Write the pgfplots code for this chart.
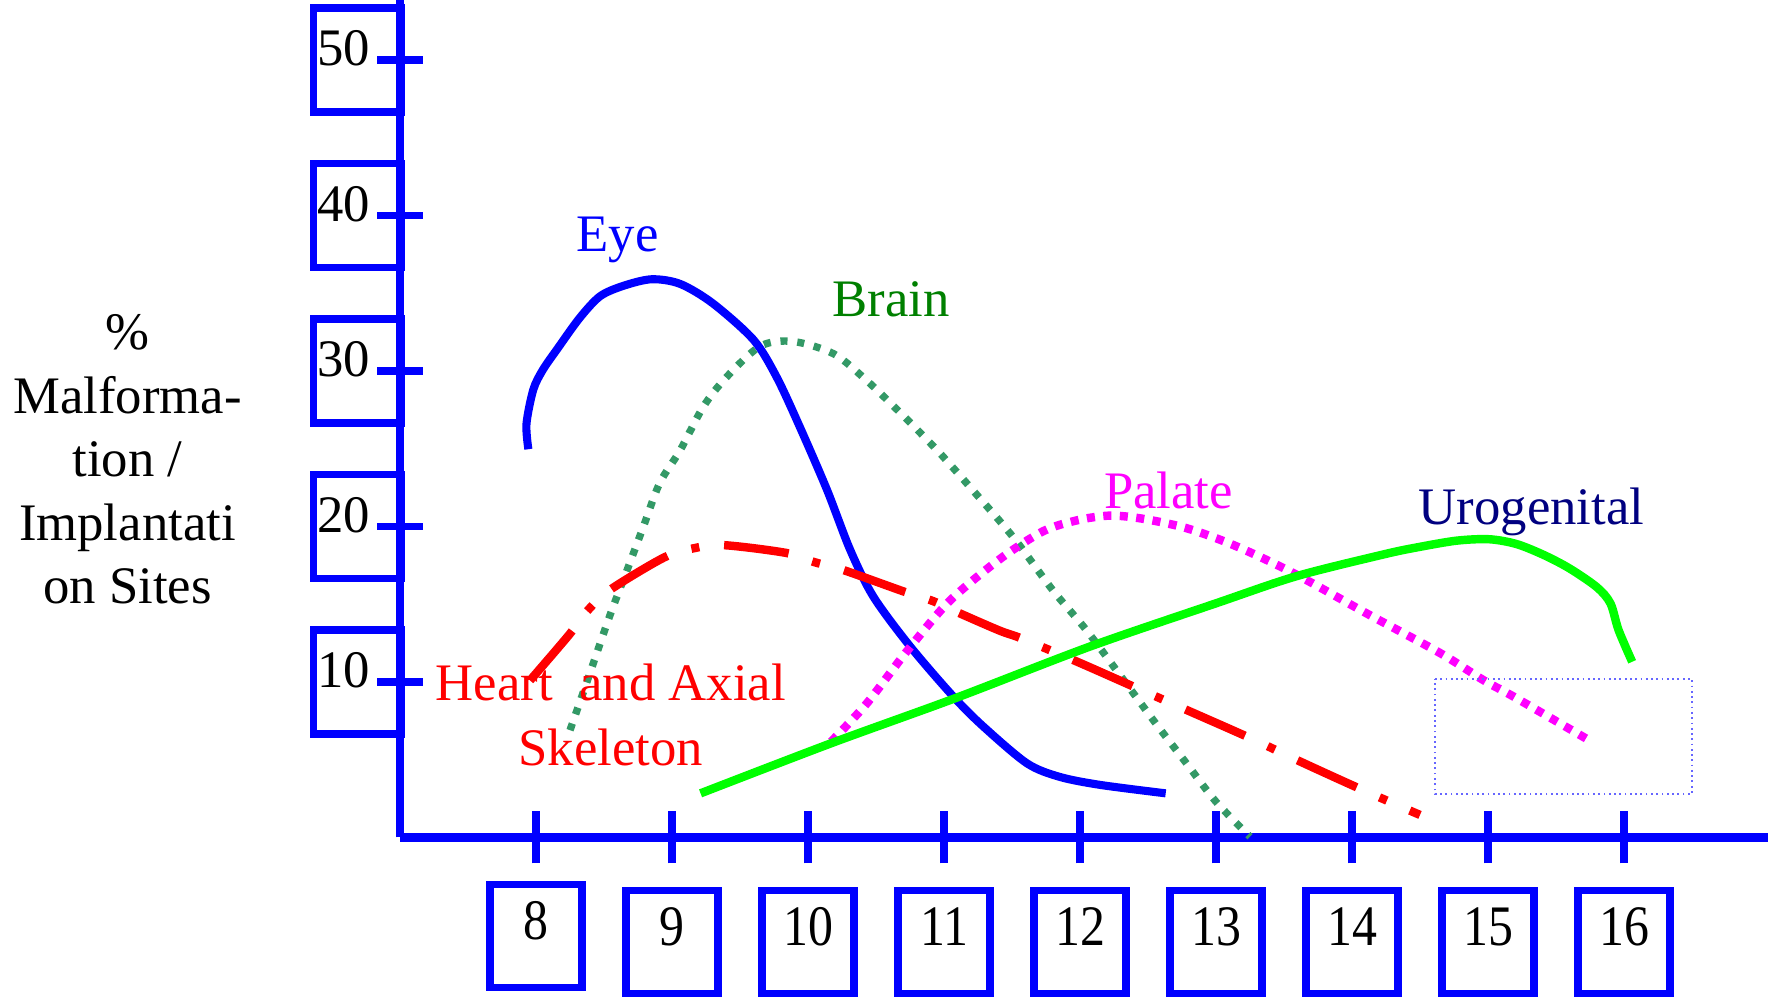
\documentclass[border=0pt]{standalone}
\usepackage{pgfplots}
\pgfplotsset{compat=1.18}
\usepackage{fontspec}
\setmainfont{Liberation Serif}
\newfontfamily\condfont[FakeStretch=0.87]{Liberation Serif}
\definecolor{eyeblue}{RGB}{0,0,255}
\definecolor{brainline}{RGB}{51,153,102}
\definecolor{brainlab}{RGB}{0,128,0}
\definecolor{palate}{RGB}{255,0,255}
\definecolor{uro}{RGB}{0,255,0}
\definecolor{urolab}{RGB}{0,0,128}
\newcommand{\lbl}{\fontsize{15}{18.07}\selectfont}
\newcommand{\xlbl}{\condfont\fontsize{16.3}{19}\selectfont}
\begin{document}
\begin{tikzpicture}
\path[use as bounding box] (0,0) rectangle (17.68,9.97);
\begin{axis}[
  at={(4cm,1.595cm)}, anchor=south west,
  scale only axis, width=13.68cm, height=8.375cm,
  xmin=7, xmax=17.059, ymin=0, ymax=53.86,
  axis lines*=left,
  axis line style={blue, line width=2.3pt},
  clip=false,
  tick align=center,
  xtick={9,...,16}, extra x ticks={8},
  ytick={10,20,30,40,50},
  xtick style={blue, line width=2pt, /pgfplots/major tick length=0.52cm},
  ytick style={blue, line width=2pt, /pgfplots/major tick length=0.46cm},
  /pgf/number format/assume math mode=true,
  yticklabel style={draw=blue, line width=2.1pt, anchor=east, text width=0.80cm, align=left,
    inner xsep=0.04cm, inner ysep=0pt, text height=0.58cm, text depth=0.46cm, font=\lbl, text=black,
    xshift=0.125cm},
  xticklabel style={draw=blue, line width=2.1pt, anchor=north, text width=0.92cm, align=center,
    inner sep=0pt, text height=0.55cm, text depth=0.48cm, font=\xlbl, text=black, yshift=-0.42cm},
  extra x tick style={xticklabel style={yshift=0.06cm}},
]
% Eye
\addplot[eyeblue, line width=2.3pt, smooth] coordinates {
(7.944,24.97) (7.93,26.6) (7.98,28.8) (8.05,30.07) (8.16,31.46) (8.32,33.4) (8.47,34.8) (8.64,35.47)
(8.85,35.9) (9.06,35.6) (9.30,34.35) (9.60,32.0) (9.77,29.6) (9.94,26.4) (10.14,22.35) (10.31,18.5)
(10.48,15.5) (10.75,12.3) (11.07,9.05) (11.29,7.13) (11.61,4.77) (11.85,3.9) (12.15,3.38) (12.63,2.84)};
% Brain
\addplot[brainline, line width=2.1pt, dash pattern=on 2pt off 2.8pt, smooth] coordinates {
(8.25,6.9) (8.37,9.9) (8.54,14.2) (8.67,17.2) (8.79,20.0) (8.91,22.8) (9.06,24.9) (9.23,27.7)
(9.40,29.6) (9.65,31.6) (9.89,31.9) (10.19,31.1) (10.43,29.4) (10.68,27.3) (10.95,24.9) (11.21,22.35)
(11.51,19.3) (11.80,15.9) (12.05,13.3) (12.34,9.9) (12.56,7.3) (12.78,4.8) (13.0,2.3) (13.25,0.05)};
% Heart and axial skeleton
\addplot[red, line width=2.4pt, dash pattern=on 18.5pt off 7.1pt on 2.3pt off 7.1pt, smooth] coordinates {
(7.956,10.1) (8.24,13.0) (8.37,14.5) (8.54,15.9) (8.94,18.0) (9.16,18.6) (9.38,18.8) (9.84,18.3)
(10.05,17.7) (10.26,17.2) (10.71,15.8) (10.92,15.2) (11.12,14.4) (11.41,13.3) (11.57,12.8) (11.98,11.3)
(12.42,9.6) (12.81,8.1) (13.25,6.4) (13.64,4.8) (14.08,3.05) (14.5,1.45)};
% Palate
\addplot[palate, line width=2.4pt, dash pattern=on 2.3pt off 2.4pt, smooth] coordinates {
(10.17,6.16) (10.43,8.6) (10.72,11.9) (11.04,15.2) (11.41,17.9) (11.73,19.7) (11.98,20.4) (12.22,20.7)
(12.46,20.5) (12.78,19.9) (13.13,18.8) (13.57,17.0) (14.11,14.4) (14.65,11.85) (14.97,10.1) (15.19,9.05)
(15.74,6.27)};
% Urogenital
\addplot[uro, line width=2.4pt, smooth] coordinates {
(9.21,2.84) (10.17,6.06) (11.08,8.95) (12.07,12.27) (13.0,15.06) (13.59,16.8) (14.23,18.2) (14.48,18.66)
(14.77,19.09) (15.01,19.18) (15.21,18.87) (15.41,18.17) (15.60,17.3) (15.80,16.1) (15.90,15.06)
(15.96,13.34) (16.06,11.3)};
% dotted frame
\addplot[blue!60, line width=0.5pt, densely dotted] coordinates {
(14.61,10.19) (16.50,10.19) (16.50,2.80) (14.61,2.80) (14.61,10.19)};
% labels
\node[anchor=base, eyeblue, font=\lbl] at (axis cs:8.60,37.7) {Eye};
\node[anchor=base, brainlab, font=\lbl] at (axis cs:10.61,33.49) {Brain};
\node[anchor=base, palate, font=\lbl] at (axis cs:12.65,21.17) {Palate};
\node[anchor=base, urolab, font=\lbl] at (axis cs:15.32,20.1) {Urogenital};
\node[anchor=base, red, font=\lbl] at (axis cs:8.55,8.84) {Heart\ \ and Axial};
\node[anchor=base, red, font=\lbl] at (axis cs:8.55,4.66) {Skeleton};
\end{axis}
\node[align=center, font=\lbl] at (1.274,5.375) {\%\\Malforma-\\tion /\\Implantati\\on Sites};
\end{tikzpicture}
\end{document}
